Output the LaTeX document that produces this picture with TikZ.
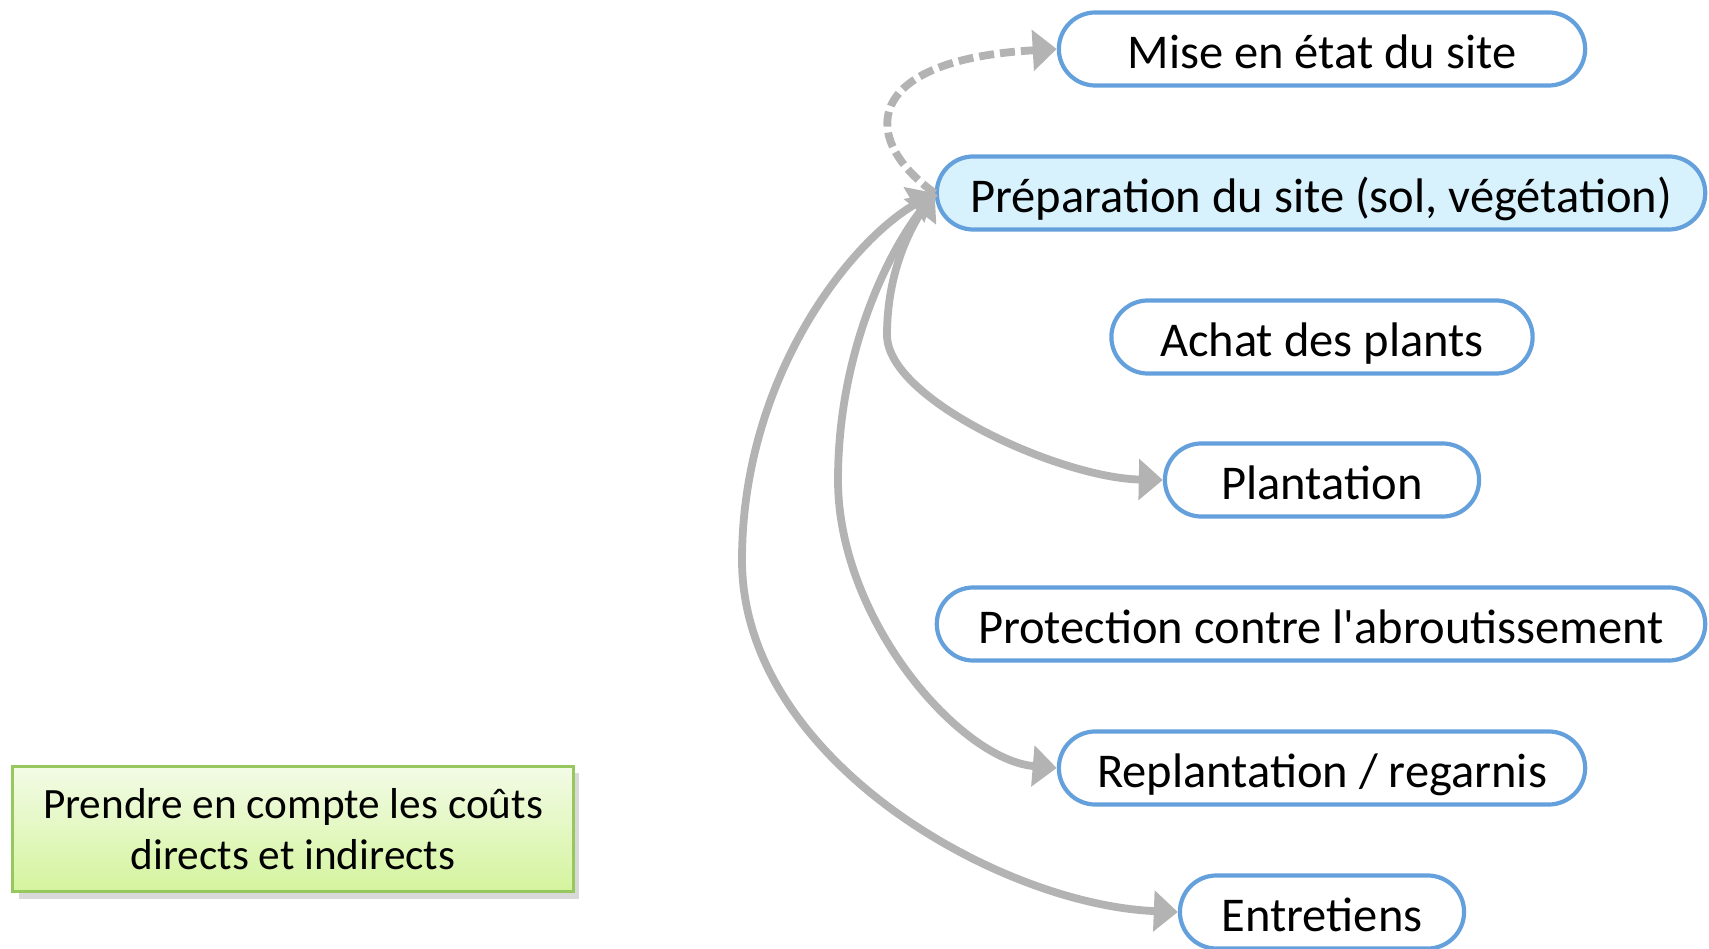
\documentclass[tikz,border=0pt]{standalone}
\usepackage{fontspec}
\setmainfont{Carlito}
\usepackage{tikz}
\usetikzlibrary{arrows.meta,shapes.misc,shadows}
\definecolor{etapebleu}{RGB}{100,160,220}
\definecolor{etapefond}{RGB}{216,242,253}
\definecolor{flechegris}{RGB}{179,179,179}
\definecolor{notebord}{RGB}{150,200,95}
\definecolor{notehaut}{RGB}{243,251,230}
\definecolor{notebas}{RGB}{212,244,158}
\tikzset{
  etape/.style={rounded rectangle, draw=etapebleu, line width=0.42mm, fill=white,
    minimum height=7.3mm, inner sep=0pt, text height=12pt, text depth=1pt,
    font=\fontsize{13.8}{16}\selectfont},
  fleche/.style={draw=flechegris, line width=0.78mm, -{Triangle[length=2.4mm,width=4mm]}},
  fleches/.style={fleche, {Triangle[length=2.4mm,width=4mm]}-{Triangle[length=2.4mm,width=4mm]}},
  pointille/.style={fleche, dash pattern=on 1.5mm off 0.6mm},
  notebox/.style={draw=notebord, line width=0.3mm, top color=notehaut, bottom color=notebas,
    minimum width=5.6cm, minimum height=1.25cm, align=center,
    font=\fontsize{12.3}{14.3}\selectfont,
    drop shadow={shadow xshift=0.6mm, shadow yshift=-0.7mm, opacity=0.3}}
}

\begin{document}
\begin{tikzpicture}[x=0.01cm, y=-0.01cm]
\useasboundingbox (0,0) rectangle (1709,949);
\node[etape, minimum width=5.26cm] at (1322, 49)  (mise) {Mise en état du site};
\node[etape, minimum width=7.68cm, fill=etapefond] at (1321, 193) (prep) {Préparation du site (sol, végétation)};
\node[etape, minimum width=4.21cm] at (1322, 337) (achat) {Achat des plants};
\node[etape, minimum width=3.14cm] at (1322, 480) (plant) {Plantation};
\node[etape, minimum width=7.68cm] at (1321, 624) (prot) {Protection contre l\textquotesingle abroutissement};
\node[etape, minimum width=5.26cm] at (1322, 768) (repl) {Replantation / regarnis};
\node[etape, minimum width=2.84cm] at (1322, 912) (entr) {Entretiens};
\node[notebox] at (293, 829) (note) {Prendre en compte les coûts\\directs et indirects};

\draw[pointille] (prep.west) .. controls (860,140) and (860,60) .. (mise.west);
\draw[fleche] (prep.west) .. controls (905,230) and (887,280) .. (887,335)
  .. controls (887,400) and (1060,478) .. (plant.west);
\draw[fleches] (prep.west) .. controls (890,250) and (838,350) .. (838,480)
  .. controls (838,620) and (960,760) .. (repl.west);
\draw[fleches] (prep.west) .. controls (848,243) and (742,380) .. (742,560)
  .. controls (742,760) and (1000,905) .. (entr.west);
\end{tikzpicture}
\end{document}
